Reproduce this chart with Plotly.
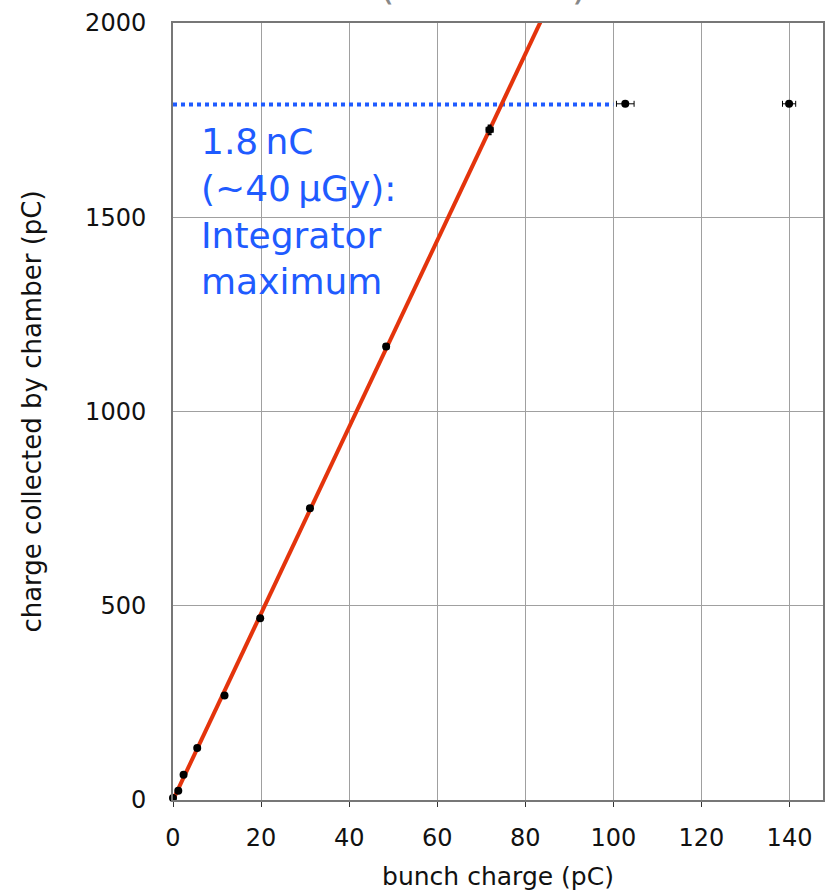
import plotly.graph_objects as go

# Data
bunch_charge = [0.0, 1.2, 2.4, 5.5, 11.7, 19.8, 31.1, 48.4, 71.9, 102.7, 139.9]
chamber_charge = [5, 24, 65, 134, 269, 468, 751, 1167, 1725, 1792, 1792]
x_err = [0.3, 0.3, 0.3, 0.3, 0.4, 0.4, 0.5, 0.6, 0.8, 2.0, 1.5]
y_err = [2, 2, 2, 3, 4, 5, 6, 7, 12, 5, 5]

fit_slope = 24.0
fit_x = [0, 90]
fit_y = [fit_slope * v for v in fit_x]

limit_x = [0, 100]
limit_y = [1790, 1790]

x_ticks = [0, 20, 40, 60, 80, 100, 120, 140]
y_ticks = [0, 500, 1000, 1500, 2000]

FONT = "DejaVu Sans"

fig = go.Figure()

fig.add_trace(go.Scatter(
    x=limit_x, y=limit_y, mode="lines",
    line=dict(color="#1f5bff", width=4, dash="dot"),
    hoverinfo="skip", showlegend=False))

fig.add_trace(go.Scatter(
    x=fit_x, y=fit_y, mode="lines",
    line=dict(color="#e4340c", width=4),
    showlegend=False))

fig.add_trace(go.Scatter(
    x=bunch_charge, y=chamber_charge, mode="markers",
    marker=dict(color="black", size=8),
    error_x=dict(type="data", array=x_err, color="black", thickness=1, width=3),
    error_y=dict(type="data", array=y_err, color="black", thickness=1.5, width=2),
    cliponaxis=False, showlegend=False))

fig.add_annotation(
    x=6.0, y=1752, xref="x", yref="y", xanchor="left", yanchor="top",
    text="1.8\u2009nC<br>(~40\u2009\u00b5Gy):<br>Integrator<br>maximum",
    showarrow=False, align="left",
    font=dict(family=FONT, size=36, color="#1f5bff"))

# partially visible title at the very top (cut off by the frame)
fig.add_annotation(
    x=(590 - 173.5) / (825 - 173.5), y=1, xref="paper", yref="paper",
    xanchor="right", yanchor="middle", yshift=23 + 15,
    text="(chamber)", showarrow=False,
    font=dict(family=FONT, size=40, color="#888888"))

fig.update_xaxes(
    range=[0, 147.6], tickvals=x_ticks,
    showgrid=True, gridcolor="#a0a0a0", gridwidth=1,
    showline=True, linecolor="#777777", linewidth=2, mirror=True,
    ticks="outside", ticklen=5, tickcolor="#333333",
    ticklabelstandoff=10,
    tickfont=dict(family=FONT, size=24, color="#111111"),
    title=dict(text="bunch charge (pC)", font=dict(family=FONT, size=25, color="#111111"), standoff=22),
    zeroline=False)

fig.update_yaxes(
    range=[0, 2000], tickvals=y_ticks,
    showgrid=True, gridcolor="#a0a0a0", gridwidth=1,
    showline=True, linecolor="#777777", linewidth=2, mirror=True,
    ticks="", ticklabelstandoff=20,
    tickfont=dict(family=FONT, size=24, color="#111111"),
    title=dict(text="charge collected by chamber (pC)", font=dict(family=FONT, size=26, color="#111111"), standoff=36),
    zeroline=False)

fig.update_layout(
    width=825, height=891,
    margin=dict(l=173, r=0, t=23, b=90),
    paper_bgcolor="white", plot_bgcolor="white",
    showlegend=False)

fig.write_html("out.html")
